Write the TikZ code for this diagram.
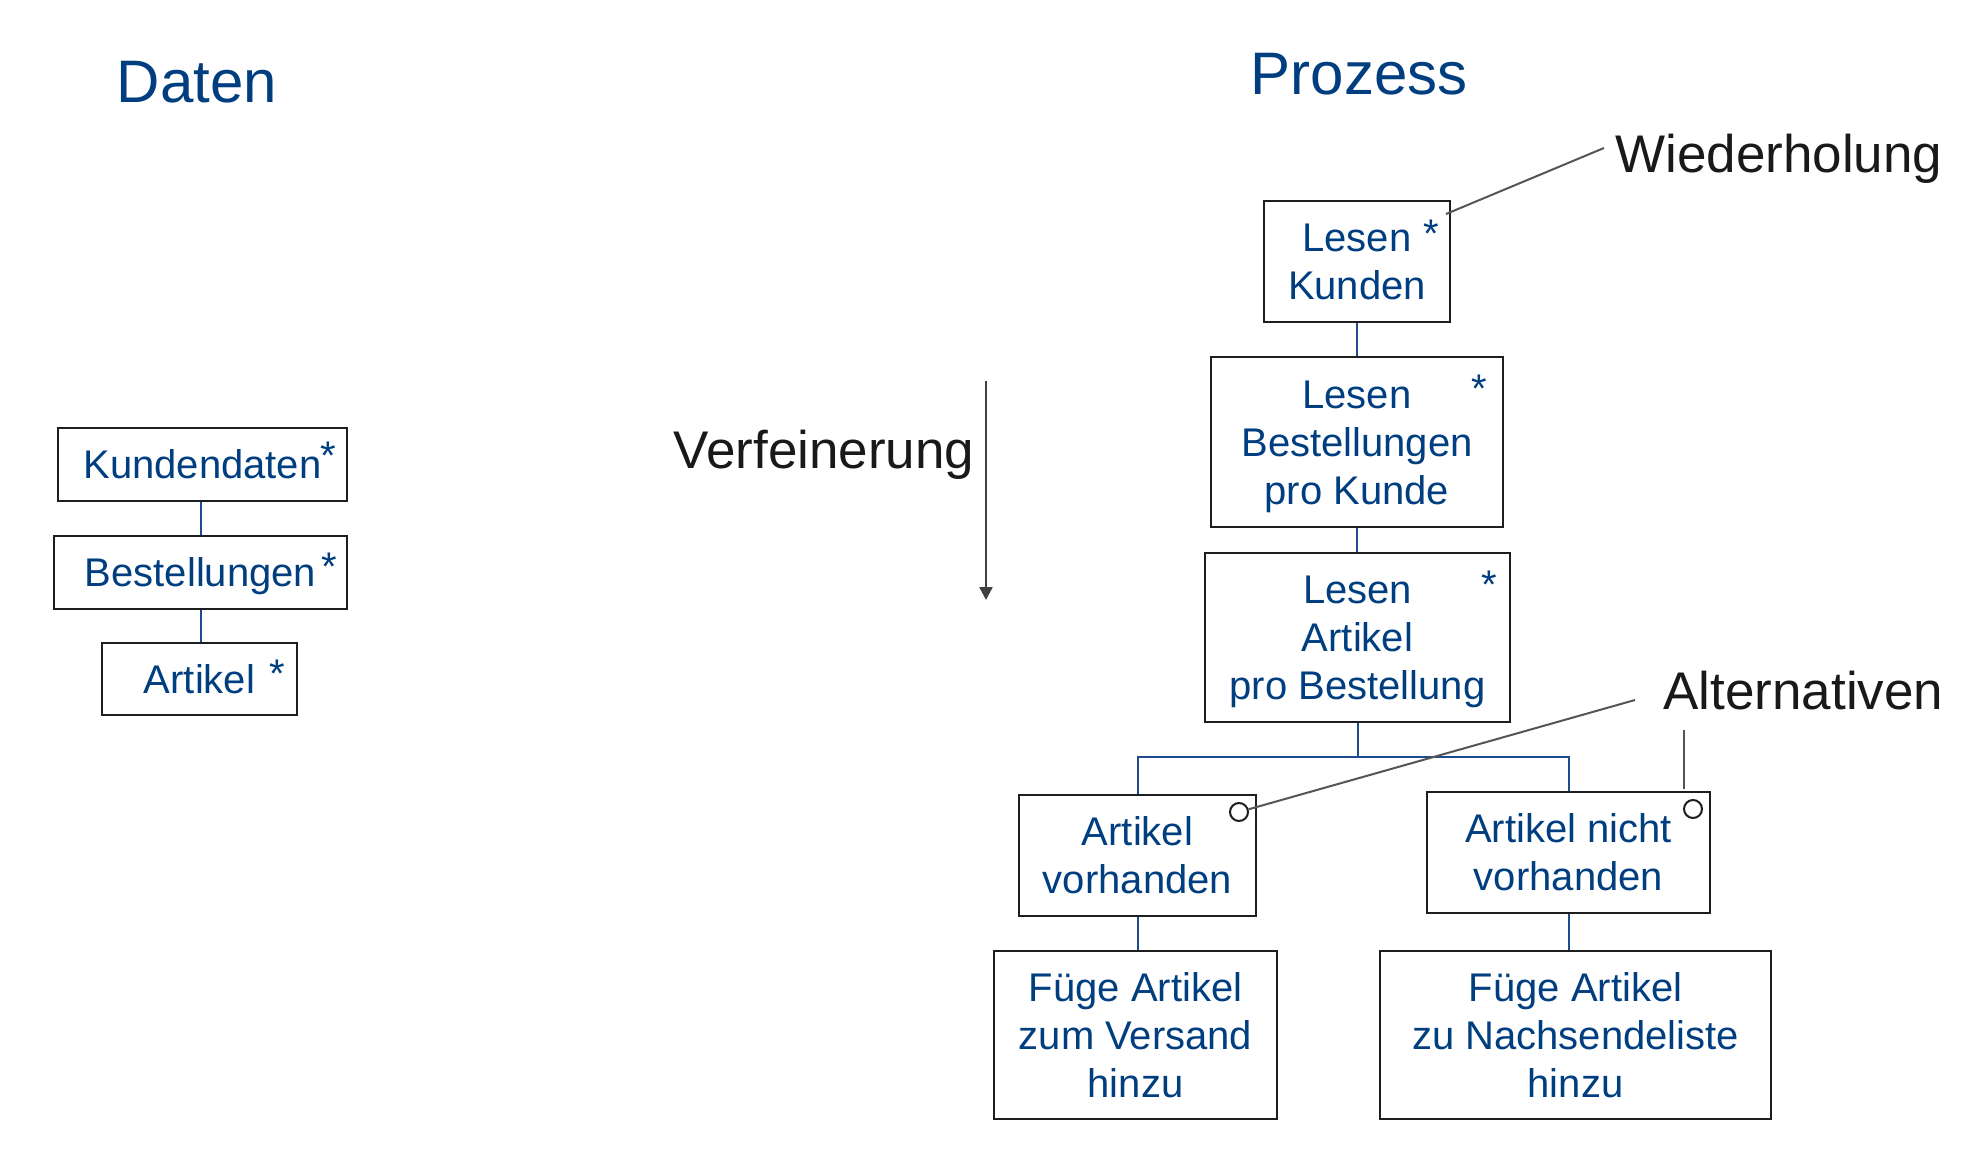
\documentclass[tikz,border=0pt]{standalone}
\usepackage{fontspec}
\setmainfont{Liberation Sans}
\usetikzlibrary{arrows.meta}
\definecolor{tblue}{RGB}{0,62,128}
\definecolor{lblue}{RGB}{30,75,140}
\definecolor{bord}{RGB}{30,30,30}
\definecolor{annogray}{RGB}{85,85,85}
\definecolor{arrgray}{RGB}{64,64,64}
\newcommand{\lst}{\rule[-5pt]{0pt}{24pt}}
\begin{document}
\begin{tikzpicture}[x=0.5pt,y=-0.5pt,
  boxnode/.style={draw=bord, line width=1.25pt, inner sep=0pt, align=center, text=tblue, font=\fontsize{20pt}{24pt}\selectfont},
  ast/.style={text=tblue, font=\fontsize{20pt}{24pt}\selectfont, inner sep=0pt, anchor=base},
  conn/.style={draw=lblue, line width=1pt},
  annoline/.style={draw=annogray, line width=1pt},
  arrowline/.style={draw=arrgray, line width=1.2pt, -{Triangle[length=6.5pt,width=6.5pt]}},
  title/.style={text=tblue, font=\fontsize{30pt}{36pt}\selectfont, inner sep=0pt},
  lbl/.style={text=black!90, font=\fontsize{26.5pt}{32pt}\selectfont, inner sep=0pt},
  altcirc/.style={circle, draw=bord, line width=1pt, minimum size=9pt, inner sep=0pt}]
\useasboundingbox (0,0) rectangle (1972,1150);

% titles
\node[title] (daten) at (197,82) {Daten};
\node[title] (prozess) at (1359,74) {Prozess};

% data column
\node[boxnode, minimum width=144.5pt, minimum height=36.5pt] (kd) at (202.5,464.5) {\lst Kundendaten};
\node[boxnode, minimum width=146.5pt, minimum height=36.5pt] (be) at (200.5,572.5) {\lst Bestellungen};
\node[boxnode, minimum width=97.5pt, minimum height=36pt] (ar) at (199.5,679) {\lst Artikel};
\node[ast] (akd) at (328,469) {*};
\node[ast] (abe) at (329,580) {*};
\node[ast] (aar) at (277,687) {*};
\draw[conn] (be.north) -- (be.north |- kd.south);
\draw[conn] (be.south) -- (be.south |- ar.north);

% process column
\node[boxnode, minimum width=93pt, minimum height=60.5pt] (lk) at (1357,261.5) {\lst Lesen\\\lst Kunden};
\node[boxnode, minimum width=146pt, minimum height=85pt] (lb) at (1357,442) {\lst Lesen\\\lst Bestellungen\\\lst pro Kunde};
\node[boxnode, minimum width=152.5pt, minimum height=84.5pt] (la) at (1357.5,637.5) {\lst Lesen\\\lst Artikel\\\lst pro Bestellung};
\node[boxnode, minimum width=118.5pt, minimum height=60.5pt] (av) at (1137.5,855.5) {\lst Artikel\\\lst vorhanden};
\node[boxnode, minimum width=141.5pt, minimum height=60.5pt] (an) at (1568.5,852.5) {\lst Artikel nicht\\\lst vorhanden};
\node[boxnode, minimum width=141.5pt, minimum height=84pt] (fv) at (1135.5,1035) {\lst Füge Artikel\\\lst zum Versand\\\lst hinzu};
\node[boxnode, minimum width=195.5pt, minimum height=84pt] (fn) at (1575.5,1035) {\lst Füge Artikel\\\lst zu Nachsendeliste\\\lst hinzu};

\node[ast] (alk) at (1431,248) {*};
\node[ast] (alb) at (1479,402) {*};
\node[ast] (ala) at (1489,598) {*};
\node[altcirc] (c1) at (1239,812) {};
\node[altcirc] (c2) at (1693,809) {};

\draw[conn] (lk.south) -- (lb.north);
\draw[conn] (lb.south) -- (lb.south |- la.north);
\coordinate (split) at (1357.5,757);
\draw[conn] (la.south) -- (split);
\draw[conn] (av.north) |- (split) -| (an.north);
\draw[conn] (av.south) -- (av.south |- fv.north);
\draw[conn] (an.south) -- (an.south |- fn.north);

% annotations
\node[lbl, anchor=base] (verf) at (824,468) {Verfeinerung};
\node[lbl, anchor=base west] (wied) at (1615,173) {Wiederholung};
\node[lbl, anchor=base west] (alt) at (1663,709) {Alternativen};

\coordinate (vA) at (986,381);
\coordinate (vB) at (986,600);
\draw[arrowline] (vA) -- (vB);

\coordinate (wA) at (1604,148);
\coordinate (wB) at (1446,214);
\draw[annoline] (wA) -- (wB);

\coordinate (aA) at (1635,700);
\draw[annoline] (aA) -- (c1);
\coordinate (aB) at (1684,730);
\coordinate (aC) at (1684,789);
\draw[annoline] (aB) -- (aC);
\end{tikzpicture}
\end{document}
